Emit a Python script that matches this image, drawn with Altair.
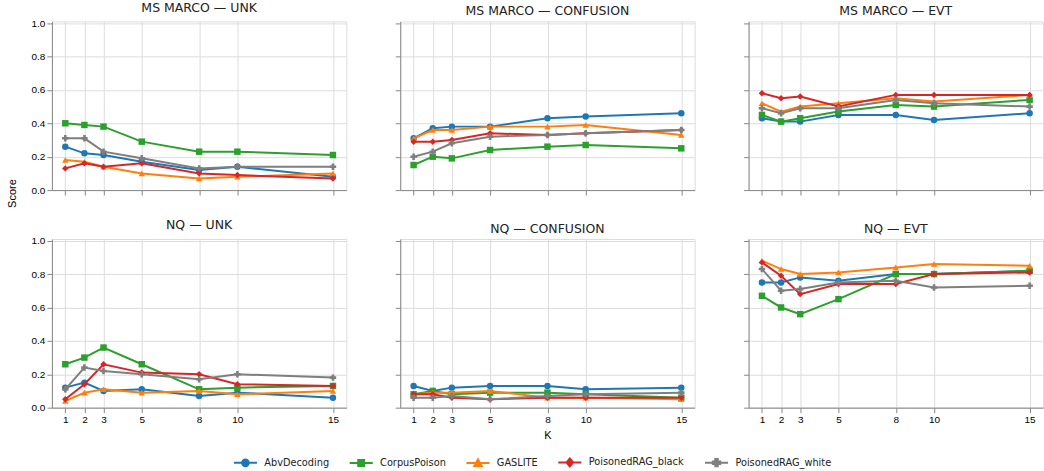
import altair as alt
import pandas as pd

K_VALUES = [1, 2, 3, 5, 8, 10, 15]
Y_TICKS = [0.0, 0.2, 0.4, 0.6, 0.8, 1.0]
METHODS = ["AbvDecoding", "CorpusPoison", "GASLITE", "PoisonedRAG_black", "PoisonedRAG_white"]
COLORS = ["#1f77b4", "#2ca02c", "#ff7f0e", "#d62728", "#7f7f7f"]
SHAPES = ["circle", "square", "triangle-up", "diamond", "cross"]
# legend glyphs: a short line with the marker in the middle
LEGEND_PATHS = [
    "M-3.3,0H3.3M0.95,0A0.95,0.95,0,1,1,-0.95,0A0.95,0.95,0,1,1,0.95,0Z",
    "M-3.3,0H3.3M-0.85,-0.85H0.85V0.85H-0.85Z",
    "M-3.3,0H3.3M0,-1.05L1.05,0.85H-1.05Z",
    "M-3.3,0H3.3M0,-1.15L0.95,0L0,1.15L-0.95,0Z",
    "M-3.3,0H3.3M-0.35,-1.05H0.35V-0.35H1.05V0.35H0.35V1.05H-0.35V0.35H-1.05V-0.35H-0.35Z",
]

MSMARCO_UNK = {
    "AbvDecoding":       [0.26, 0.22, 0.21, 0.17, 0.12, 0.14, 0.08],
    "CorpusPoison":      [0.40, 0.39, 0.38, 0.29, 0.23, 0.23, 0.21],
    "GASLITE":           [0.18, 0.17, 0.14, 0.10, 0.07, 0.08, 0.10],
    "PoisonedRAG_black": [0.13, 0.16, 0.14, 0.16, 0.10, 0.09, 0.07],
    "PoisonedRAG_white": [0.31, 0.31, 0.23, 0.19, 0.13, 0.14, 0.14],
}
MSMARCO_CONFUSION = {
    "AbvDecoding":       [0.31, 0.37, 0.38, 0.38, 0.43, 0.44, 0.46],
    "CorpusPoison":      [0.15, 0.20, 0.19, 0.24, 0.26, 0.27, 0.25],
    "GASLITE":           [0.31, 0.36, 0.36, 0.38, 0.38, 0.39, 0.33],
    "PoisonedRAG_black": [0.29, 0.29, 0.30, 0.34, 0.33, 0.34, 0.36],
    "PoisonedRAG_white": [0.20, 0.23, 0.28, 0.32, 0.33, 0.34, 0.36],
}
MSMARCO_EVT = {
    "AbvDecoding":       [0.43, 0.41, 0.41, 0.45, 0.45, 0.42, 0.46],
    "CorpusPoison":      [0.45, 0.41, 0.43, 0.47, 0.51, 0.50, 0.54],
    "GASLITE":           [0.52, 0.47, 0.50, 0.52, 0.55, 0.53, 0.57],
    "PoisonedRAG_black": [0.58, 0.55, 0.56, 0.50, 0.57, 0.57, 0.57],
    "PoisonedRAG_white": [0.49, 0.46, 0.49, 0.49, 0.54, 0.52, 0.50],
}
NQ_UNK = {
    "AbvDecoding":       [0.12, 0.15, 0.10, 0.11, 0.07, 0.09, 0.06],
    "CorpusPoison":      [0.26, 0.30, 0.36, 0.26, 0.11, 0.12, 0.13],
    "GASLITE":           [0.04, 0.09, 0.11, 0.09, 0.10, 0.08, 0.10],
    "PoisonedRAG_black": [0.05, 0.14, 0.26, 0.21, 0.20, 0.14, 0.13],
    "PoisonedRAG_white": [0.11, 0.24, 0.22, 0.20, 0.17, 0.20, 0.18],
}
NQ_CONFUSION = {
    "AbvDecoding":       [0.13, 0.10, 0.12, 0.13, 0.13, 0.11, 0.12],
    "CorpusPoison":      [0.08, 0.10, 0.08, 0.09, 0.09, 0.08, 0.06],
    "GASLITE":           [0.08, 0.09, 0.09, 0.10, 0.06, 0.06, 0.05],
    "PoisonedRAG_black": [0.08, 0.08, 0.06, 0.05, 0.06, 0.06, 0.06],
    "PoisonedRAG_white": [0.06, 0.06, 0.07, 0.05, 0.07, 0.08, 0.09],
}
NQ_EVT = {
    "AbvDecoding":       [0.75, 0.75, 0.78, 0.76, 0.80, 0.80, 0.82],
    "CorpusPoison":      [0.67, 0.60, 0.56, 0.65, 0.80, 0.80, 0.82],
    "GASLITE":           [0.88, 0.83, 0.80, 0.81, 0.84, 0.86, 0.85],
    "PoisonedRAG_black": [0.87, 0.79, 0.68, 0.74, 0.74, 0.80, 0.81],
    "PoisonedRAG_white": [0.83, 0.70, 0.71, 0.75, 0.76, 0.72, 0.73],
}

PANELS = [
    ("MS MARCO", "UNK", MSMARCO_UNK),
    ("MS MARCO", "CONFUSION", MSMARCO_CONFUSION),
    ("MS MARCO", "EVT", MSMARCO_EVT),
    ("NQ", "UNK", NQ_UNK),
    ("NQ", "CONFUSION", NQ_CONFUSION),
    ("NQ", "EVT", NQ_EVT),
]

FONT = "DejaVu Sans"
W, H = 295, 169


def make_panel(idx, ds, metric, values):
    row, col = divmod(idx, 3)
    recs = []
    for m in METHODS:
        for k, v in zip(K_VALUES, values[m]):
            recs.append({"Method": m, "K": k, "Score": v})
    data = pd.DataFrame(recs)

    xaxis_kw = dict(values=K_VALUES, labels=(row == 1), grid=True)
    if row == 1 and col == 1:
        xaxis_kw.update(title="K", titleFontSize=11, titleFontWeight="normal", titlePadding=5)
    else:
        xaxis_kw.update(title=None)
    yaxis_kw = dict(values=Y_TICKS, format=".1f", labels=(col == 0), grid=True)
    if row == 0 and col == 0:
        yaxis_kw.update(title="Score", titleFontSize=11, titleFontWeight="normal",
                        titleAngle=270, titleX=-39, titleY=172,
                        titleAlign="center", titleBaseline="middle")
    else:
        yaxis_kw.update(title=None)

    X = alt.X("K:Q", scale=alt.Scale(domain=[0.3, 15.7], nice=False, zero=False),
              axis=alt.Axis(**xaxis_kw))
    Y = alt.Y("Score:Q", scale=alt.Scale(domain=[0, 1.01], nice=False, zero=False),
              axis=alt.Axis(**yaxis_kw))

    layers = []
    for i, m in enumerate(METHODS):
        sub = data[data.Method == m]
        base = alt.Chart(sub).encode(x=X, y=Y)
        layers.append(base.mark_line(color=COLORS[i], strokeWidth=2))
        layers.append(base.mark_point(color=COLORS[i], shape=SHAPES[i], filled=True,
                                      size=42, opacity=1))

    if row == 1 and col == 1:
        # the legend is placed relative to the top-left panel's origin
        leg = alt.Legend(title=None, orient="none", direction="horizontal",
                         legendX=181, legendY=437, symbolSize=49,
                         symbolStrokeWidth=2, labelFontSize=9.8, labelFont=FONT,
                         labelColor="#222", labelOffset=14, columnPadding=16,
                         symbolOffset=8)
        legend_layer = alt.Chart(data).transform_filter("false").mark_point(
            filled=True, opacity=1).encode(
            x=X, y=Y,
            fill=alt.Fill("Method:N", scale=alt.Scale(domain=METHODS, range=COLORS), legend=leg),
            stroke=alt.Stroke("Method:N", scale=alt.Scale(domain=METHODS, range=COLORS), legend=leg),
            shape=alt.Shape("Method:N", scale=alt.Scale(domain=METHODS, range=LEGEND_PATHS), legend=leg),
        )
        layers.append(legend_layer)

    return alt.layer(*layers).properties(
        width=W, height=H,
        title=alt.TitleParams(f"{ds} — {metric}", fontSize=12.5, fontWeight="normal",
                              font=FONT, color="#222", anchor="middle",
                              baseline="bottom", offset=-9),
    )


panels = [make_panel(i, *p) for i, p in enumerate(PANELS)]

chart = alt.concat(*panels, columns=3, spacing={"row": 49, "column": 54}, bounds="flush").properties(
    padding={"left": 6, "top": 0, "right": 0, "bottom": 2},
).configure_view(stroke=None).configure_axis(
    labelFont=FONT, titleFont=FONT, labelFontSize=11, labelColor="#222", titleColor="#222",
    domainColor="#333", domainWidth=1, tickColor="#333", tickSize=3.5, tickWidth=0.9,
    labelPadding=3, gridColor="#dcdcdc", gridDash=[3, 2], gridWidth=0.8,
).configure(background="white")

chart.save("out.html", embed_options={"renderer": "svg", "actions": False})
